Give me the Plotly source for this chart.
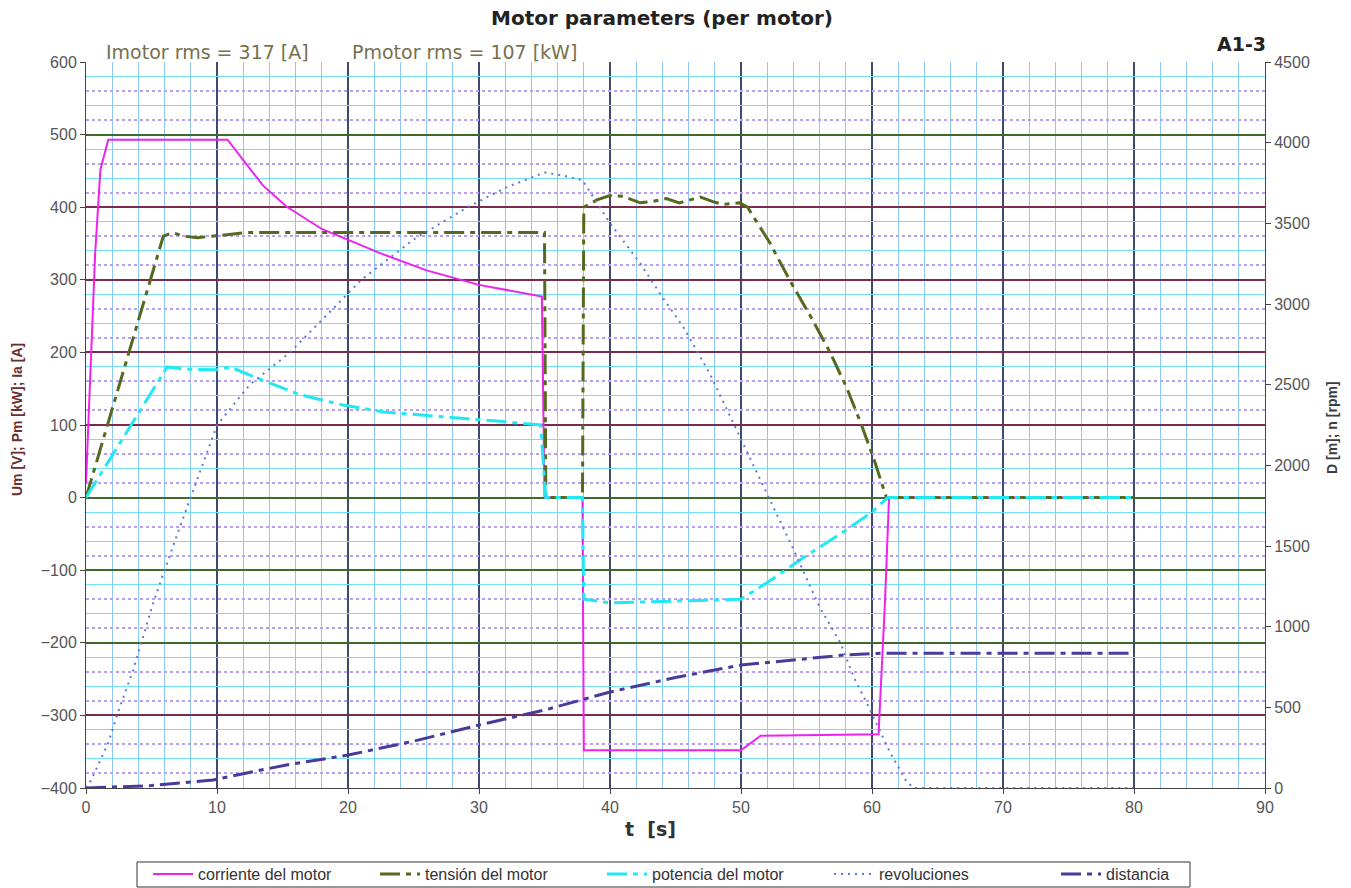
import plotly.graph_objects as go

# ---------------- data ----------------
t_corr = [0, 0.7, 1.1, 1.7, 10.8, 12.0, 13.5, 15.3, 18.0, 22.4, 26.0, 30.0, 34.8, 35.0, 37.9, 38.0, 50.0, 51.5, 60.5, 61.0, 61.3, 80.0]
corriente = [20, 337, 452, 493, 493, 465, 430, 401, 370, 337, 313, 293, 277, 0, 0, -348, -348, -328, -326, -140, 0, 0]

t_ten = [0, 5.9, 6.6, 7.5, 8.5, 10.2, 12.3, 35.0, 35.1, 37.9, 38.0, 39.0, 40.0, 41.0, 42.3, 43.3, 44.3, 45.3, 46.2,
         46.9, 47.8, 48.6, 49.9, 50.5, 52.2, 53.7, 55.3, 56.8, 58.1, 59.2, 60.2, 61.1, 80.0]
tension = [0, 360, 365, 360, 358, 361, 365, 365, 0, 0, 400, 410, 416, 415, 406, 408, 412, 406, 410,
           414, 408, 404, 406, 400, 351, 300, 250, 200, 150, 100, 50, 0, 0]

t_pot = [0, 6.2, 7.5, 10.0, 11.0, 13.0, 16.3, 19.5, 22.7, 25.5, 28.5, 31.6, 34.7, 35.1, 37.9, 38.0, 40.0, 44.0,
         50.0, 52.0, 55.0, 58.0, 60.0, 61.2, 80.0]
potencia = [0, 180, 177, 176, 180, 165, 142, 128, 118, 114, 110, 105, 100, 0, 0, -140, -145, -143,
            -140, -117, -80, -45, -20, 0, 0]

t_rev = [0, 0.4, 1.7, 2.5, 3.6, 4.35, 5.2, 7.0, 10.0, 12.5, 15.5, 18.0, 21.0, 25.0, 29.0, 32.0, 35.0, 36.5, 37.9,
         40.0, 42.3, 43.8, 45.6, 47.6, 50.0, 52.0, 54.0, 56.0, 57.6, 58.6, 59.6, 61.4, 62.7, 63.3, 80.0]
revoluciones = [0, 50, 279, 483, 731, 936, 1165, 1580, 2249, 2500, 2695, 2900, 3148, 3400, 3594, 3720, 3815, 3795, 3767,
                3501, 3253, 3067, 2856, 2571, 2162, 1821, 1480, 1121, 898, 688, 527, 217, 31, 0, 0]

t_dist = [0, 5, 9.7, 15.3, 20, 25, 30, 35, 40, 45, 50, 54.5, 58, 61, 80]
distancia = [0, 15, 50, 143, 204, 290, 390, 483, 595, 685, 762, 799, 825, 836, 836]

x_ticks = [0, 10, 20, 30, 40, 50, 60, 70, 80, 90]
left_ticks = [600, 500, 400, 300, 200, 100, 0, -100, -200, -300, -400]
right_ticks = [4500, 4000, 3500, 3000, 2500, 2000, 1500, 1000, 500, 0]

# grid styling helpers (positions of decorative gridlines on the left scale)
green_major = [500, 0, -100, -200]
minor_a = [m + d for m in range(-400, 600, 100) for d in (20, 60)]   # dotted violet
minor_b = [m + d for m in range(-400, 600, 100) for d in (40, 80)]   # cyan

FONT = "Liberation Sans, Arial, sans-serif"
WIDE = "DejaVu Sans, Liberation Sans, sans-serif"

W, H = 1351, 888
L, R, T, B = 86, 1265, 62, 788
PW, PH = R - L, B - T


def px(x):
    return (x - L) / PW


def py(y):
    return (B - y) / PH


fig = go.Figure()
# empty helper traces so that the decorative grid axes get drawn
for ax in ("y3", "y4", "y5"):
    fig.add_trace(go.Scatter(x=[None], y=[None], yaxis=ax, showlegend=False, hoverinfo="skip", mode="lines"))

fig.add_trace(go.Scatter(x=t_corr, y=corriente, name="corriente del motor", mode="lines",
                         line=dict(color="#ee22ee", width=2)))
fig.add_trace(go.Scatter(x=t_ten, y=tension, name="tensión del motor", mode="lines",
                         line=dict(color="#55691f", width=3, dash="20px,6px,5px,6px")))
fig.add_trace(go.Scatter(x=t_pot, y=potencia, name="potencia del motor", mode="lines",
                         line=dict(color="#22e8f2", width=3, dash="20px,6px,5px,6px")))
fig.add_trace(go.Scatter(x=t_rev, y=revoluciones, name="revoluciones", mode="lines", yaxis="y2",
                         line=dict(color="#5a7ad8", width=2, dash="2px,5px")))
fig.add_trace(go.Scatter(x=t_dist, y=distancia, name="distancia", mode="lines", yaxis="y2",
                         line=dict(color="#4a3a9a", width=3, dash="20px,6px,5px,6px")))

hidden = dict(range=[-400, 600], overlaying="y", anchor="x", showline=False, zeroline=False,
              showticklabels=False, ticks="", automargin=False)

fig.update_layout(
    width=W, height=H,
    margin=dict(l=L, r=W - R, t=T, b=H - B, autoexpand=False),
    paper_bgcolor="white", plot_bgcolor="white",
    font=dict(family=FONT, size=16, color="#555555"),
    showlegend=True,
    legend=dict(orientation="h", x=px(148), xanchor="left", y=py(874), yanchor="middle",
                borderwidth=0, bgcolor="rgba(0,0,0,0)",
                font=dict(family=FONT, size=16, color="#333333"),
                entrywidth=172, entrywidthmode="pixels", itemwidth=40),
    xaxis=dict(range=[0, 90], tickvals=x_ticks, showgrid=True, gridcolor="#3e4a70", gridwidth=1.5,
               zeroline=False, showline=True, linecolor="#444444", linewidth=1, automargin=False,
               ticks="outside", ticklen=5, tickcolor="#444444",
               minor=dict(dtick=2, showgrid=True, gridcolor="#8ec8f6", gridwidth=1.3),
               tickfont=dict(size=16, color="#555555")),
    yaxis=dict(range=[-400, 600], tickvals=left_ticks, showgrid=True, gridcolor="#7b2c4c", gridwidth=1.5,
               zeroline=False, showline=True, linecolor="#444444", linewidth=1, automargin=False,
               ticks="outside", ticklen=5, tickcolor="#444444",
               tickfont=dict(size=16, color="#555555")),
    yaxis2=dict(range=[0, 4500], tickvals=right_ticks, overlaying="y", side="right", showgrid=False,
                zeroline=False, showline=True, linecolor="#444444", linewidth=1, automargin=False,
                ticks="outside", ticklen=5, tickcolor="#444444",
                tickfont=dict(size=16, color="#555555")),
    yaxis3=dict(hidden, tickvals=minor_b, showgrid=True, gridcolor="#72e0f4", gridwidth=1.3),
    yaxis4=dict(hidden, tickvals=minor_a, showgrid=True, gridcolor="#b8a0f6", gridwidth=1.5, griddash="dot"),
    yaxis5=dict(hidden, tickvals=green_major, showgrid=True, gridcolor="#3e6a2c", gridwidth=1.5),
    shapes=[
        dict(type="rect", xref="paper", yref="paper", x0=px(137), x1=px(1190), y0=py(862), y1=py(887),
             line=dict(color="#333333", width=1), fillcolor="rgba(0,0,0,0)", layer="above"),
    ],
    annotations=[
        dict(text="<b>Motor parameters (per motor)</b>", xref="paper", yref="paper",
             x=px(662), y=py(18), xanchor="center", yanchor="middle",
             showarrow=False, font=dict(family=WIDE, size=20, color="#222222")),
        dict(text="<b>A1-3</b>", xref="paper", yref="paper",
             x=px(1268), y=py(44), xanchor="right", yanchor="middle",
             showarrow=False, font=dict(family=WIDE, size=19, color="#222222")),
        dict(text="Imotor rms = 317 [A]", xref="paper", yref="paper",
             x=px(104), y=py(52), xanchor="left", yanchor="middle",
             showarrow=False, font=dict(family=WIDE, size=19, color="#76704e")),
        dict(text="Pmotor rms = 107 [kW]", xref="paper", yref="paper",
             x=px(350), y=py(52), xanchor="left", yanchor="middle",
             showarrow=False, font=dict(family=WIDE, size=19, color="#76704e")),
        dict(text="<b>t  [s]</b>", xref="paper", yref="paper",
             x=px(650), y=py(829), xanchor="center", yanchor="middle",
             showarrow=False, font=dict(family=WIDE, size=19, color="#333333")),
        dict(text="<b>Um [V]; Pm [kW]; Ia [A]</b>", xref="paper", yref="paper", textangle=-90,
             x=px(17), y=py(420), xanchor="center", yanchor="middle",
             showarrow=False, font=dict(family=FONT, size=14, color="#6b2d2d")),
        dict(text="<b>D [m]; n [rpm]</b>", xref="paper", yref="paper", textangle=-90,
             x=px(1332), y=py(428), xanchor="center", yanchor="middle",
             showarrow=False, font=dict(family=FONT, size=14, color="#3d3d3d")),
    ],
)

# the page body's default 8px margin would push the figure off the 1351x888 window
fig.write_html("out.html", config={"displayModeBar": False},
               post_script="document.body.style.margin='0';")
